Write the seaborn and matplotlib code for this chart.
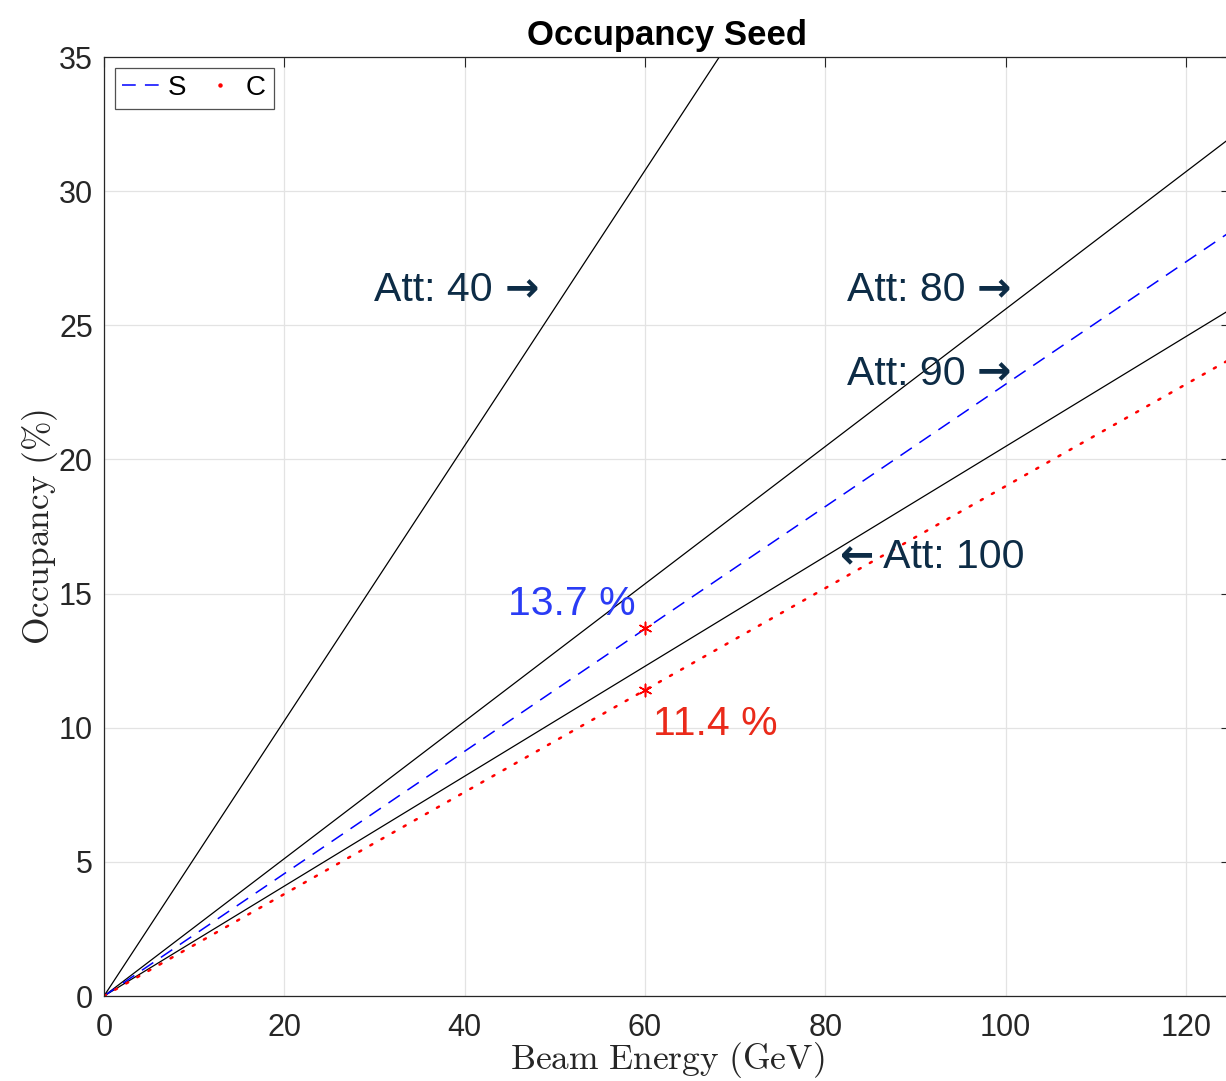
import matplotlib
matplotlib.use("Agg")
import matplotlib.pyplot as plt
from matplotlib.lines import Line2D
import seaborn as sns

# ---- data ----
energy = [0, 125]
att40 = [0, 64.1]
att80 = [0, 32.0]
att100 = [0, 25.6]
occ_S = [0, 28.5]
occ_C = [0, 23.75]
mark_x = [60, 60]
mark_y = [13.7, 11.4]
mark_labels = ["13.7 %", "11.4 %"]
att_labels = ["Att: 40", "Att: 80", "Att: 90", "Att: 100"]
att_arrows = ["right", "right", "right", "left"]
att_label_x = [30.0, 82.4, 82.4, 81.6]
att_label_y = [26.3, 26.3, 23.2, 16.35]
xticks = [0, 20, 40, 60, 80, 100, 120]
yticks = [0, 5, 10, 15, 20, 25, 30, 35]

sns.set_theme(style="whitegrid")
plt.rcParams['font.family'] = ['Liberation Sans', 'DejaVu Sans']
plt.rcParams['mathtext.fontset'] = 'cm'

fig = plt.figure(figsize=(12.26, 10.81), dpi=100)
ax = fig.add_axes([104/1226, 1-996/1081, (125*9.015)/1226, (996-57)/1081])

for ys in (att40, att80, att100):
    sns.lineplot(x=energy, y=ys, ax=ax, color="black", linewidth=0.9, legend=False)

sns.lineplot(x=energy, y=occ_S, ax=ax, color="blue", linewidth=1.1, legend=False)
ax.lines[-1].set_dashes([9, 6])
sns.lineplot(x=energy, y=occ_C, ax=ax, color="red", linewidth=1.8, legend=False)
ax.lines[-1].set_dashes([0.9, 4.2])
ax.lines[-1].set_dash_capstyle("round")

sns.scatterplot(x=mark_x, y=mark_y, ax=ax, marker=(6, 2, 0), color="red", s=80,
                linewidth=1.1, edgecolor="red", legend=False, zorder=5)

ax.set_xlim(0, 125)
ax.set_ylim(0, 35)
ax.set_xticks(xticks)
ax.set_yticks(yticks)
ax.tick_params(axis="both", labelsize=22, colors="#262626", direction="in",
               length=7, width=0.8, top=True, right=True)
ax.tick_params(axis="x", pad=12)
ax.tick_params(axis="y", pad=8)
for s in ax.spines.values():
    s.set_color("#262626")
    s.set_linewidth(0.9)
ax.grid(True, color="#e3e3e3", linewidth=0.9)
ax.set_facecolor("white")

ax.set_xlabel(r"$\mathrm{Beam\ Energy\ (GeV)}$", fontsize=25.5, color="#262626", labelpad=-2)
ax.set_ylabel(r"$\mathrm{Occupancy\ (\%)}$", fontsize=25.5, color="#262626", labelpad=-1)
ax.set_title("Occupancy Seed", fontsize=25, fontweight="bold", color="black", pad=9)

navy = "#0d2c46"
fs = 29.5
for t, d, x, y in zip(att_labels, att_arrows, att_label_x, att_label_y):
    if d == "right":
        tx = ax.text(x, y, t + " ", fontsize=fs, color=navy, ha="left", va="center")
        ax.annotate("\u2192", xy=(1, 0.5), xycoords=tx, fontsize=fs, color=navy,
                    ha="left", va="center", family="DejaVu Sans", fontweight="bold")
    else:
        ar = ax.text(x, y, "\u2190", fontsize=fs, color=navy, ha="left", va="center",
                     family="DejaVu Sans", fontweight="bold")
        ax.annotate(" " + t, xy=(1, 0.5), xycoords=ar, fontsize=fs, color=navy,
                    ha="left", va="center")

ax.text(44.8, 14.6, mark_labels[0], fontsize=fs, color="#2a3cf5", ha="left", va="center")
ax.text(60.9, 10.15, mark_labels[1], fontsize=fs, color="#ea2a1a", ha="left", va="center")

hS = Line2D([], [], color="blue", linewidth=1.1, dashes=[9, 6])
hC = Line2D([], [], color="red", linestyle="none", marker="o", markersize=2.2)
leg = ax.legend([hS, hC], ["S", "C"], loc="upper left", ncol=2, fontsize=20,
                frameon=True, fancybox=False, edgecolor="#262626",
                handlelength=1.45, handletextpad=0.2, columnspacing=0.5,
                borderpad=0.27, borderaxespad=0.38, numpoints=1)
leg.get_frame().set_linewidth(0.9)
for txt in leg.get_texts():
    txt.set_color("black")

fig.savefig("out.png", dpi=100, facecolor="white")
